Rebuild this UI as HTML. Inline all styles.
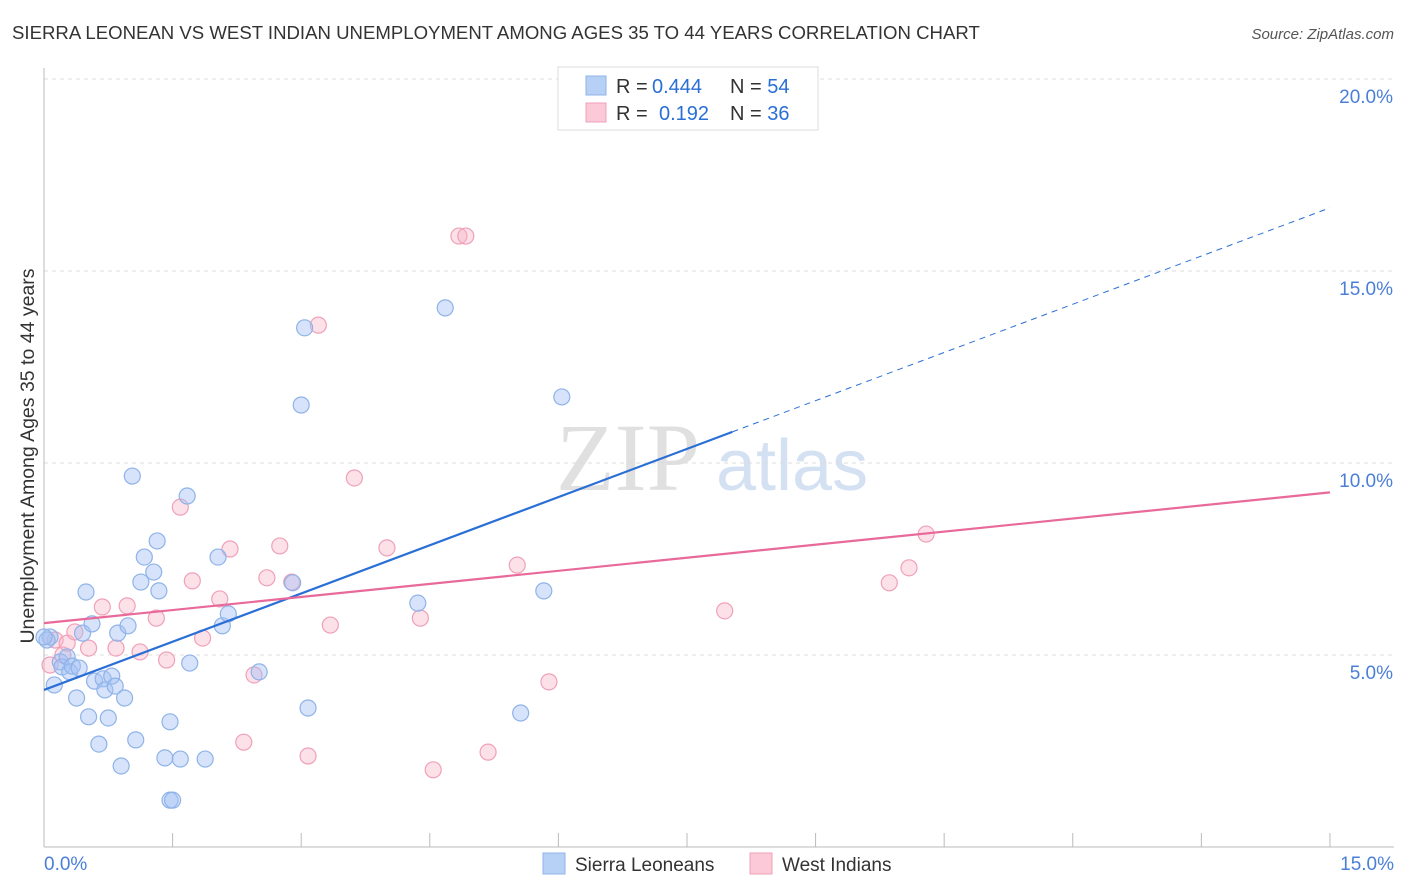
<!DOCTYPE html>
<html><head><meta charset="utf-8"><style>
body{margin:0;background:#fff;font-family:"Liberation Sans",sans-serif;}
svg{display:block}
</style></head><body>
<svg id="c" width="1406" height="892">
<text x="12" y="39" font-size="18.6" fill="#333">SIERRA LEONEAN VS WEST INDIAN UNEMPLOYMENT AMONG AGES 35 TO 44 YEARS CORRELATION CHART</text>
<text x="1394" y="39" font-size="15" fill="#555" font-style="italic" text-anchor="end">Source: ZipAtlas.com</text>
<text x="556" y="490" font-size="96" fill="#e0e0e0" font-family="Liberation Serif,serif">ZIP</text>
<text x="716" y="490" font-size="72" fill="#d4e1f3">atlas</text>
<text transform="translate(34,456) rotate(-90)" font-size="19.5" fill="#333" text-anchor="middle">Unemployment Among Ages 35 to 44 years</text>
<g id="grid"></g><g id="marks"></g>
<g>
<rect x="558" y="67" width="260" height="63" fill="#fff" stroke="#ddd"/>
<rect x="586" y="76" width="20" height="19" fill="#b7d0f5" stroke="#8fb3e8"/>
<rect x="586" y="103" width="20" height="19" fill="#fbc9d8" stroke="#f0a0b8"/>
<text x="616" y="93" font-size="20" fill="#333">R = <tspan x="652" fill="#2a6fd6">0.444</tspan><tspan x="730">N = </tspan><tspan fill="#2a6fd6">54</tspan></text>
<text x="616" y="120" font-size="20" fill="#333">R = <tspan x="659" fill="#2a6fd6">0.192</tspan><tspan x="730">N = </tspan><tspan fill="#2a6fd6">36</tspan></text>
</g>
<g>
<rect x="543" y="853" width="22" height="21" fill="#b7d0f5" stroke="#8fb3e8"/>
<text x="575" y="871" font-size="19" fill="#333">Sierra Leoneans</text>
<rect x="750" y="853" width="22" height="21" fill="#fbc9d8" stroke="#f0a0b8"/>
<text x="782" y="871" font-size="19" fill="#333">West Indians</text>
</g>
</svg>
<script>
const yTicks=[5,10,15,20];
const yTickLabels=["5.0%","10.0%","15.0%","20.0%"];
const blueX=[0.07,0.035,0.12,0.19,0.21,0.27,0.30,0.33,0.41,0.38,0.45,0.49,0.52,0.56,0.59,0.64,0.69,0.71,0.75,0.79,0.83,0.86,0.90,0.94,0.98,1.03,1.07,1.13,1.17,1.28,1.32,1.34,1.41,1.47,1.47,1.50,1.59,1.67,1.70,1.88,2.03,2.08,2.15,2.51,2.90,3.00,3.04,3.08,4.36,4.68,5.56,5.83,6.04,0];
const blueY=[5.47,5.39,4.22,4.82,4.69,4.95,4.56,4.71,4.66,3.88,5.57,6.64,3.39,5.81,4.32,2.68,4.38,4.09,3.36,4.45,4.19,5.57,2.11,3.88,5.76,9.66,2.79,6.90,7.55,7.16,7.97,6.67,2.32,3.26,1.22,1.22,2.29,9.14,4.79,2.29,7.55,5.76,6.07,4.56,6.88,11.51,13.52,3.62,6.35,14.04,3.49,6.67,11.72,5.47];
const pinkX=[0.07,0.13,0.22,0.27,0.36,0.52,0.68,0.84,0.97,1.12,1.31,1.43,1.59,1.73,1.85,2.05,2.17,2.45,2.33,2.60,2.75,2.89,3.08,3.20,3.34,3.62,4.00,4.39,4.54,4.84,4.92,5.18,5.52,5.89,7.94,9.86,10.09,10.29];
const pinkY=[4.74,5.39,5.00,5.31,5.60,5.18,6.25,5.18,6.28,5.08,5.96,4.87,8.85,6.93,5.44,6.46,7.76,4.48,2.73,7.01,7.84,6.90,2.37,13.59,5.78,9.61,7.79,5.96,2.01,15.91,15.91,2.47,7.34,4.30,6.15,6.88,7.27,8.15];
const blueTrend=[4.09,0.837]; const pinkTrend=[5.83,0.227];
const X=v=>44+v*85.73, Y=v=>847-v*38.4;
const NS="http://www.w3.org/2000/svg";
function mk(t,a,p){const e=document.createElementNS(NS,t);for(const k in a)e.setAttribute(k,a[k]);p.appendChild(e);return e;}
const g=document.getElementById('grid'), m=document.getElementById('marks');
yTicks.forEach((t,i)=>{
 const l=mk('line',{x1:44,x2:1394,y1:Y(t),y2:Y(t),stroke:'#ddd','stroke-dasharray':'4,4'},g);
 
 
 const tx=mk('text',{x:1393,y:Y(t)+24,'font-size':19,fill:'#4a7fd8','text-anchor':'end'},g);
 tx.textContent=yTickLabels[i];
 
 
});
mk('line',{x1:44,x2:44,y1:68,y2:847,stroke:'#bbb'},g);
mk('line',{x1:44,x2:1394,y1:847,y2:847,stroke:'#bbb'},g);
for(let i=0;i<=10;i++){const xv=i*1.5;const t=mk('line',{x1:X(xv),x2:X(xv),y1:847,y2:833,stroke:'#bbb'},g);
 
 }
const a=mk('text',{x:44,y:870,'font-size':19,fill:'#4a7fd8'},g);a.textContent='0.0%';


const b=mk('text',{x:1394,y:870,'font-size':19,fill:'#4a7fd8','text-anchor':'end'},g);b.textContent='15.0%';


pinkX.forEach((x,i)=>{const c=mk('circle',{cx:X(x),cy:Y(pinkY[i]),r:8,fill:'rgba(248,180,200,0.4)',stroke:'#f0a0b8','stroke-width':1.2},m);
 
 });
blueX.forEach((x,i)=>{const c=mk('circle',{cx:X(x),cy:Y(blueY[i]),r:8,fill:'rgba(164,194,244,0.45)',stroke:'#8fb3e8','stroke-width':1.2},m);
 
 });
const f=x=>blueTrend[0]+blueTrend[1]*x, h=x=>pinkTrend[0]+pinkTrend[1]*x;
let l1=mk('line',{x1:X(0),y1:Y(f(0)),x2:X(8.03),y2:Y(f(8.03)),stroke:'#2a6fd6','stroke-width':2.2},m);


let l2=mk('line',{x1:X(8.03),y1:Y(f(8.03)),x2:X(15),y2:Y(f(15)),stroke:'#2a6fd6','stroke-width':1,'stroke-dasharray':'6,5'},m);


let l3=mk('line',{x1:X(0),y1:Y(h(0)),x2:X(15),y2:Y(h(15)),stroke:'#e8699a','stroke-width':2.2},m);


</script>
</body></html>
